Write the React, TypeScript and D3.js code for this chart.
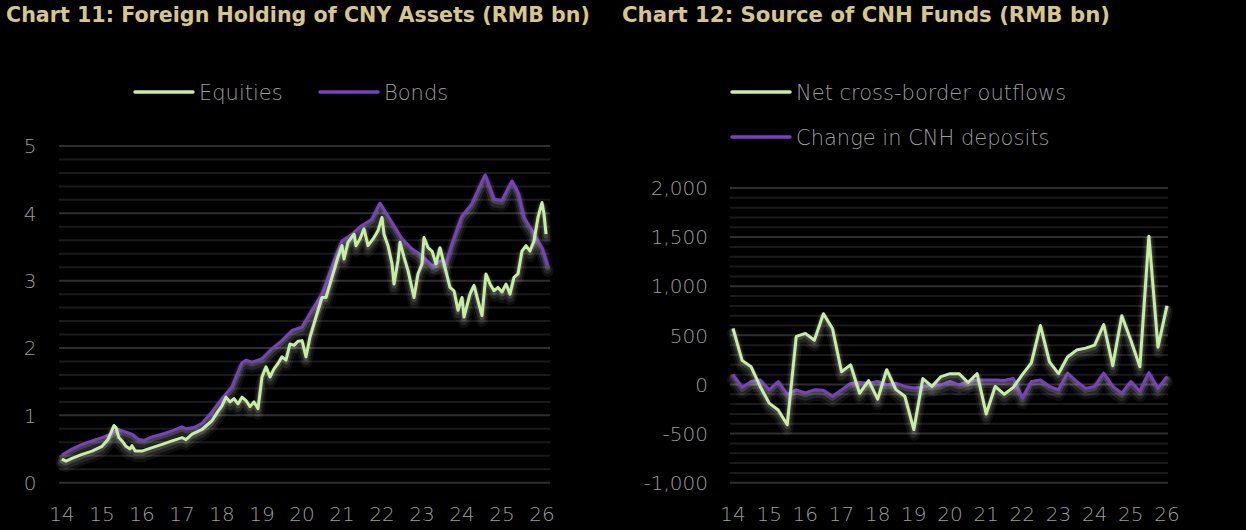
import { useRef, useEffect } from "react";
import * as d3 from "d3";

// Chart 11: foreign holdings, [decimal year, value]
const equities = [
  [2014.0, 0.35], [2014.1, 0.32], [2014.25, 0.36], [2014.5, 0.42], [2014.75, 0.47],
  [2015.0, 0.54], [2015.15, 0.64], [2015.3, 0.85], [2015.35, 0.82], [2015.42, 0.67],
  [2015.5, 0.62], [2015.6, 0.54], [2015.7, 0.5], [2015.75, 0.55], [2015.83, 0.47],
  [2016.0, 0.47], [2016.25, 0.52], [2016.5, 0.57], [2016.75, 0.62], [2017.0, 0.67],
  [2017.1, 0.64], [2017.25, 0.72], [2017.5, 0.79], [2017.75, 0.92], [2017.9, 1.06],
  [2018.0, 1.14], [2018.1, 1.27], [2018.2, 1.2], [2018.3, 1.25], [2018.4, 1.17],
  [2018.5, 1.27], [2018.6, 1.22], [2018.7, 1.13], [2018.8, 1.2], [2018.9, 1.1],
  [2019.0, 1.57], [2019.1, 1.72], [2019.2, 1.57], [2019.3, 1.69], [2019.4, 1.77],
  [2019.5, 1.87], [2019.6, 1.82], [2019.7, 2.06], [2019.8, 2.04], [2019.9, 2.1],
  [2020.0, 2.11], [2020.1, 1.87], [2020.2, 2.16], [2020.3, 2.36], [2020.5, 2.75],
  [2020.6, 2.75], [2020.75, 3.05], [2020.9, 3.35], [2021.0, 3.52], [2021.05, 3.32],
  [2021.15, 3.57], [2021.3, 3.69], [2021.35, 3.52], [2021.45, 3.62], [2021.55, 3.77],
  [2021.65, 3.52], [2021.8, 3.64], [2021.9, 3.74], [2022.0, 3.94], [2022.05, 3.69],
  [2022.15, 3.52], [2022.25, 3.25], [2022.3, 2.95], [2022.4, 3.3], [2022.45, 3.57],
  [2022.55, 3.35], [2022.65, 3.15], [2022.8, 2.75], [2022.9, 3.1], [2023.0, 3.25],
  [2023.05, 3.64], [2023.15, 3.49], [2023.25, 3.44], [2023.35, 3.25], [2023.45, 3.49],
  [2023.55, 3.25], [2023.7, 2.9], [2023.8, 2.85], [2023.9, 2.56], [2024.0, 2.75],
  [2024.05, 2.46], [2024.2, 2.8], [2024.3, 2.93], [2024.4, 2.7], [2024.5, 2.48],
  [2024.6, 3.1], [2024.7, 2.95], [2024.8, 2.85], [2024.9, 2.9], [2025.0, 2.83],
  [2025.1, 2.95], [2025.2, 2.8], [2025.3, 3.05], [2025.4, 3.1], [2025.5, 3.44],
  [2025.6, 3.52], [2025.7, 3.44], [2025.8, 3.59], [2025.9, 3.94], [2026.0, 4.16],
  [2026.05, 3.99], [2026.1, 3.69],
];

const bonds = [
  [2014.0, 0.41], [2014.25, 0.5], [2014.5, 0.57], [2014.75, 0.62], [2015.0, 0.67],
  [2015.25, 0.73], [2015.4, 0.79], [2015.55, 0.76], [2015.75, 0.72], [2015.92, 0.64],
  [2016.05, 0.63], [2016.25, 0.68], [2016.5, 0.72], [2016.75, 0.77], [2017.0, 0.83],
  [2017.1, 0.8], [2017.3, 0.82], [2017.5, 0.88], [2017.75, 1.05], [2018.0, 1.25],
  [2018.25, 1.42], [2018.5, 1.78], [2018.6, 1.82], [2018.75, 1.79], [2019.0, 1.84],
  [2019.25, 1.99], [2019.5, 2.11], [2019.75, 2.26], [2020.0, 2.31], [2020.25, 2.56],
  [2020.5, 2.8], [2020.75, 3.2], [2021.0, 3.59], [2021.25, 3.69], [2021.5, 3.82],
  [2021.75, 3.91], [2021.95, 4.15], [2022.25, 3.86], [2022.5, 3.62], [2022.75, 3.47],
  [2023.0, 3.37], [2023.25, 3.22], [2023.5, 3.3], [2023.6, 3.25], [2023.75, 3.54],
  [2024.0, 3.96], [2024.25, 4.14], [2024.58, 4.57], [2024.8, 4.21], [2025.0, 4.19],
  [2025.25, 4.48], [2025.4, 4.31], [2025.55, 3.94], [2025.75, 3.74], [2026.0, 3.49],
  [2026.14, 3.22],
];

// Chart 12: quarterly, 2014Q1 .. 2026Q1
const netOutflows = [
  570, 245, 180, -20, -190, -260, -410, 490, 520, 450, 720, 570, 130, 200, -90, 40,
  -150, 150, -50, -120, -460, 60, -20, 80, 110, 110, 20, 110, -300, -20, -100, -30,
  100, 220, 600, 230, 110, 280, 350, 370, 400, 610, 190, 700, 450, 180, 1510, 380, 800,
];
const cnhDeposits = [
  100, -30, 30, 45, -55, 30, -100, -55, -85, -55, -60, -120, -55, 10, 20, 13,
  30, -5, 13, -20, -35, -25, -5, -5, 30, -5, 30, 45, 45, 45, 40, 60,
  -140, 30, 45, -20, -55, 115, 30, -40, -20, 115, -20, -90, 30, -70, 120, -40, 80,
];

const yearTicks = d3.range(2014, 2027);
const leftTicks = [0, 1, 2, 3, 4, 5];
const rightTicks = [-1000, -500, 0, 500, 1000, 1500, 2000];
const leftLegend = ["Equities", "Bonds"];
const rightLegend = ["Net cross-border outflows", "Change in CNH deposits"];
const titles = [
  "Chart 11: Foreign Holding of CNY Assets (RMB bn)",
  "Chart 12: Source of CNH Funds (RMB bn)",
];

const GREEN = "#c6f0a0";
const PURPLE = "#7840c4";
const AXIS = "#9c9c9c";
const FONT = "'DejaVu Sans', 'Noto Sans', sans-serif";

// draws a series with a soft white halo underneath (stacked translucent strokes)
const glowLine = (g, data, line, color) => {
  [
    { w: 12, o: 0.06, dy: 5 },
    { w: 8, o: 0.09, dy: 4 },
    { w: 5, o: 0.14, dy: 2 },
  ].forEach((h) => {
    g.append("path").datum(data).attr("d", line)
      .attr("fill", "none").attr("stroke", "#ffffff")
      .attr("stroke-opacity", h.o).attr("stroke-width", h.w)
      .attr("stroke-linejoin", "round").attr("stroke-linecap", "round")
      .attr("transform", `translate(0,${h.dy})`);
  });
  g.append("path").datum(data).attr("d", line)
    .attr("fill", "none").attr("stroke", color).attr("stroke-width", 3)
    .attr("stroke-linejoin", "round");
};

const App = () => {
  const svgRef = useRef(null);

  useEffect(() => {
    const svg = d3.select(svgRef.current);
    svg.selectAll("*").remove();

    // titles
    svg.append("text")
      .attr("x", 6).attr("y", 22)
      .attr("font-family", FONT).attr("font-weight", "bold").attr("font-size", 21)
      .attr("fill", "#d6c68a")
      .attr("textLength", 584).attr("lengthAdjust", "spacingAndGlyphs")
      .text(titles[0]);
    svg.append("text")
      .attr("x", 622).attr("y", 22)
      .attr("font-family", FONT).attr("font-weight", "bold").attr("font-size", 21)
      .attr("fill", "#d6c68a")
      .attr("textLength", 488).attr("lengthAdjust", "spacingAndGlyphs")
      .text(titles[1]);

    const panel = ({ x, y, gx0, gx1, minor, ticks, fmt, labelX, anchor }) => {
      const g = svg.append("g");
      const minorVals = d3.range(y.domain()[0], y.domain()[1] + minor / 2, minor);
      g.selectAll(".grid")
        .data(minorVals)
        .join("line")
        .attr("x1", gx0).attr("x2", gx1)
        .attr("y1", (d) => y(d)).attr("y2", (d) => y(d))
        .attr("stroke", (d) => (ticks.some((t) => Math.abs(t - d) < 1e-6) ? "#2e2e2e" : "#1a1a1a"))
        .attr("stroke-width", 2);
      g.selectAll(".yl")
        .data(ticks)
        .join("text")
        .attr("x", labelX).attr("y", (d) => y(d))
        .attr("dy", "0.36em")
        .attr("text-anchor", anchor)
        .attr("font-family", FONT).attr("font-weight", 200).attr("font-size", 20)
        .attr("fill", AXIS)
        .text(fmt);
      g.selectAll(".xl")
        .data(yearTicks)
        .join("text")
        .attr("x", (d) => x(d)).attr("y", 521)
        .attr("text-anchor", "middle")
        .attr("font-family", FONT).attr("font-weight", 200).attr("font-size", 20)
        .attr("fill", AXIS)
        .text((d) => String(d).slice(2));
      return g;
    };

    // ---- left chart
    const xL = d3.scaleLinear().domain([2014, 2026]).range([62, 542]);
    const yL = d3.scaleLinear().domain([0, 5]).range([482.7, 146]);
    const gL = panel({ x: xL, y: yL, gx0: 59, gx1: 550, minor: 0.2, ticks: leftTicks, fmt: (d) => d, labelX: 30, anchor: "middle" });
    const lineL = d3.line().x((d) => xL(d[0])).y((d) => yL(d[1]));
    glowLine(gL, bonds, lineL, PURPLE);
    glowLine(gL, equities, lineL, GREEN);

    // ---- right chart
    const commaFmt = d3.format(",");
    const xR = d3.scaleLinear().domain([2014, 2026]).range([733, 1167]);
    const yR = d3.scaleLinear().domain([-1000, 2000]).range([482.7, 188]);
    const gR = panel({
      x: xR, y: yR, gx0: 730, gx1: 1168, minor: 100, ticks: rightTicks,
      fmt: (d) => commaFmt(d).replace("\u2212", "-"), labelX: 708, anchor: "end",
    });
    const lineR = d3.line().x((d, i) => xR(2014 + i / 4)).y((d) => yR(d));
    glowLine(gR, cnhDeposits, lineR, PURPLE);
    glowLine(gR, netOutflows, lineR, GREEN);

    // ---- legends
    const legendItems = [
      { label: leftLegend[0], color: GREEN, x: 135, y: 92 },
      { label: leftLegend[1], color: PURPLE, x: 320, y: 92 },
      { label: rightLegend[0], color: GREEN, x: 732, y: 92 },
      { label: rightLegend[1], color: PURPLE, x: 732, y: 137 },
    ];
    const lg = svg.append("g").selectAll("g").data(legendItems).join("g");
    lg.append("line")
      .attr("x1", (d) => d.x).attr("x2", (d) => d.x + 58)
      .attr("y1", (d) => d.y).attr("y2", (d) => d.y)
      .attr("stroke", (d) => d.color).attr("stroke-width", 3.5).attr("stroke-linecap", "round");
    lg.append("text")
      .attr("x", (d) => d.x + 64).attr("y", (d) => d.y)
      .attr("dy", "0.36em")
      .attr("font-family", FONT).attr("font-weight", 200).attr("font-size", 21)
      .attr("fill", AXIS)
      .text((d) => d.label);
  }, []);

  return (
    <div style={{ position: "absolute", left: 0, top: 0, width: 1246, height: 530, background: "#000" }}>
      <svg ref={svgRef} width={1246} height={530} style={{ display: "block" }}></svg>
    </div>
  );
};

export default App;
